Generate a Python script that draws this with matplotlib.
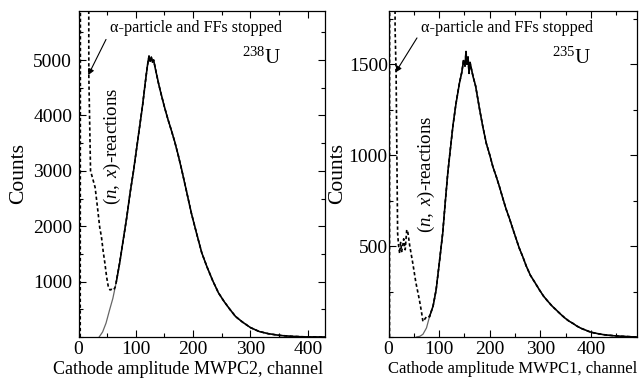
import matplotlib
matplotlib.use("Agg")
import matplotlib.pyplot as plt
from matplotlib.ticker import MultipleLocator

plt.rcParams['font.family'] = ['Liberation Serif', 'DejaVu Serif']
plt.rcParams['mathtext.fontset'] = 'custom'
plt.rcParams['mathtext.rm'] = 'Liberation Serif'
plt.rcParams['mathtext.it'] = 'Liberation Serif:italic'

# ---------------- 238U (MWPC2) ----------------
sel_L_x = [36, 42, 48, 54, 60, 66, 72, 78, 84, 90, 96, 102, 108, 112, 116, 119, 121, 123, 125,
           127, 129, 131, 133, 136, 140, 145, 150, 156, 162, 168, 174, 180, 188, 197, 206, 215,
           224, 234, 244, 254, 264, 274, 286, 300, 315, 331, 350, 372, 395, 430]
sel_L_y = [0, 90, 250, 480, 700, 1000, 1350, 1750, 2150, 2600, 3000, 3450, 3900, 4200, 4550, 4800,
           4950, 5070, 4980, 5050, 4960, 5000, 4900, 4750, 4560, 4350, 4150, 3930, 3730, 3520, 3280,
           3020, 2650, 2230, 1870, 1520, 1270, 1020, 800, 640, 500, 370, 270, 170, 100, 60, 30, 12, 3, 0]
raw_L_x_low = [3, 4, 17, 18, 21, 25, 29, 33, 37, 40, 43, 46, 49, 52, 55, 58, 61, 64]
raw_L_y_low = [0, 20000, 20000, 4730, 3000, 2850, 2700, 2350, 1980, 1810, 1550, 1335, 1088, 908,
               850, 860, 845, 900]

# ---------------- 235U (MWPC1) ----------------
sel_R_x = [55, 62, 68, 75, 81, 88, 94, 100, 107, 112, 117, 122, 127, 133, 140, 145, 148, 151, 153,
           155, 157, 159, 161, 164, 167, 172, 180, 186, 193, 200, 206, 213, 219, 226, 232, 239, 246,
           252, 258, 265, 272, 280, 289, 298, 306, 315, 323, 331, 340, 348, 356, 364, 372, 380, 389,
           397, 405, 414, 422, 430, 445, 460, 475, 490]
sel_R_y = [0, 4, 15, 50, 112, 170, 259, 400, 571, 740, 901, 1030, 1157, 1280, 1396, 1460, 1520, 1490,
           1570, 1500, 1540, 1450, 1510, 1470, 1432, 1380, 1250, 1160, 1066, 1000, 937, 880, 827, 760,
           705, 650, 590, 540, 490, 442, 390, 340, 300, 259, 225, 195, 170, 149, 125, 105, 88, 75, 60,
           48, 38, 29, 23, 18, 14, 11, 7, 4, 2, 0]
raw_R_x_low = [2, 3, 11, 13, 15, 18, 20, 22, 24, 26, 28, 30, 33, 36, 38, 42, 48, 54, 61, 65, 68,
               72, 76]
raw_R_y_low = [0, 9000, 9000, 1700, 1450, 571, 500, 460, 520, 470, 500, 540, 480, 590, 580, 500,
               405, 300, 204, 140, 85, 100, 115]

panels = [
    dict(sel_x=sel_L_x, sel_y=sel_L_y, raw_x=raw_L_x_low, raw_y=raw_L_y_low, join=66,
         xlim=(0, 430), ylim=(0, 5885), yticks=[1000, 2000, 3000, 4000, 5000], yminor=500,
         xlabel='Cathode amplitude MWPC2, channel', xlab_fs=13, xlab_x=0.445, iso=r'$^{238}$U',
         pos=[78.5, 11, 325, 337], arrow_tip=(17, 4727), arrow_txt=(55, 5575),
         iso_xy=(353, 5036), nx_xy=(60, 3447), ylab_x=-0.205, ypad=4.5),
    dict(sel_x=sel_R_x, sel_y=sel_R_y, raw_x=raw_R_x_low, raw_y=raw_R_y_low, join=81,
         xlim=(0, 490), ylim=(0, 1793), yticks=[500, 1000, 1500], yminor=250,
         xlabel='Cathode amplitude MWPC1, channel', xlab_fs=12, xlab_x=0.5, iso=r'$^{235}$U',
         pos=[388.5, 11, 636.7, 337], arrow_tip=(13.8, 1455), arrow_txt=(64.6, 1700),
         iso_xy=(400, 1535), nx_xy=(75, 897), ylab_x=-0.165, ypad=0.5),
]

W, H = 644, 381
fig = plt.figure(figsize=(W / 100, H / 100), dpi=100)

for p in panels:
    x0, y0, x1, y1 = p['pos']
    ax = fig.add_axes([x0 / W, 1 - y1 / H, (x1 - x0) / W, (y1 - y0) / H])
    tail_x = [x for x in p['sel_x'] if x >= p['join']]
    tail_y = [y for x, y in zip(p['sel_x'], p['sel_y']) if x >= p['join']]
    ax.plot(p['sel_x'], p['sel_y'], color='0.4', lw=0.9)
    ax.plot(p['raw_x'] + tail_x, p['raw_y'] + tail_y, color='k', lw=1.2, ls=(0, (2.0, 1.5)))
    ax.plot(tail_x, tail_y, color='k', lw=1.1)

    ax.set_xlim(*p['xlim'])
    ax.set_ylim(*p['ylim'])
    ax.set_xticks([0, 100, 200, 300, 400])
    ax.xaxis.set_minor_locator(MultipleLocator(50))
    ax.set_yticks(p['yticks'])
    ax.yaxis.set_minor_locator(MultipleLocator(p['yminor']))
    ax.tick_params(which='both', direction='in', top=True, right=True, labelsize=14, width=0.8)
    ax.tick_params(which='major', length=5)
    ax.tick_params(axis='x', which='major', pad=3)
    ax.tick_params(axis='y', which='major', pad=p['ypad'])
    ax.tick_params(which='minor', length=3)
    for s in ax.spines.values():
        s.set_linewidth(0.9)

    ax.set_ylabel('Counts', fontsize=15.5)
    ax.yaxis.set_label_coords(p['ylab_x'], 0.5)
    ax.set_xlabel(p['xlabel'], fontsize=p['xlab_fs'])
    ax.xaxis.set_label_coords(p['xlab_x'], -0.075)

    ax.annotate('α-particle and FFs stopped', xy=p['arrow_tip'], xytext=p['arrow_txt'],
                fontsize=11.6, ha='left', va='center',
                arrowprops=dict(arrowstyle='-|>', color='k', lw=0.8, mutation_scale=9,
                                shrinkA=2, shrinkB=0, relpos=(0, 0.3)))
    ax.text(p['iso_xy'][0], p['iso_xy'][1], p['iso'], fontsize=15, ha='right', va='center')
    ax.text(p['nx_xy'][0], p['nx_xy'][1], r'$(n,\ x)$-reactions', fontsize=13.5,
            rotation=90, ha='center', va='center')

fig.savefig('out.png', dpi=100)
